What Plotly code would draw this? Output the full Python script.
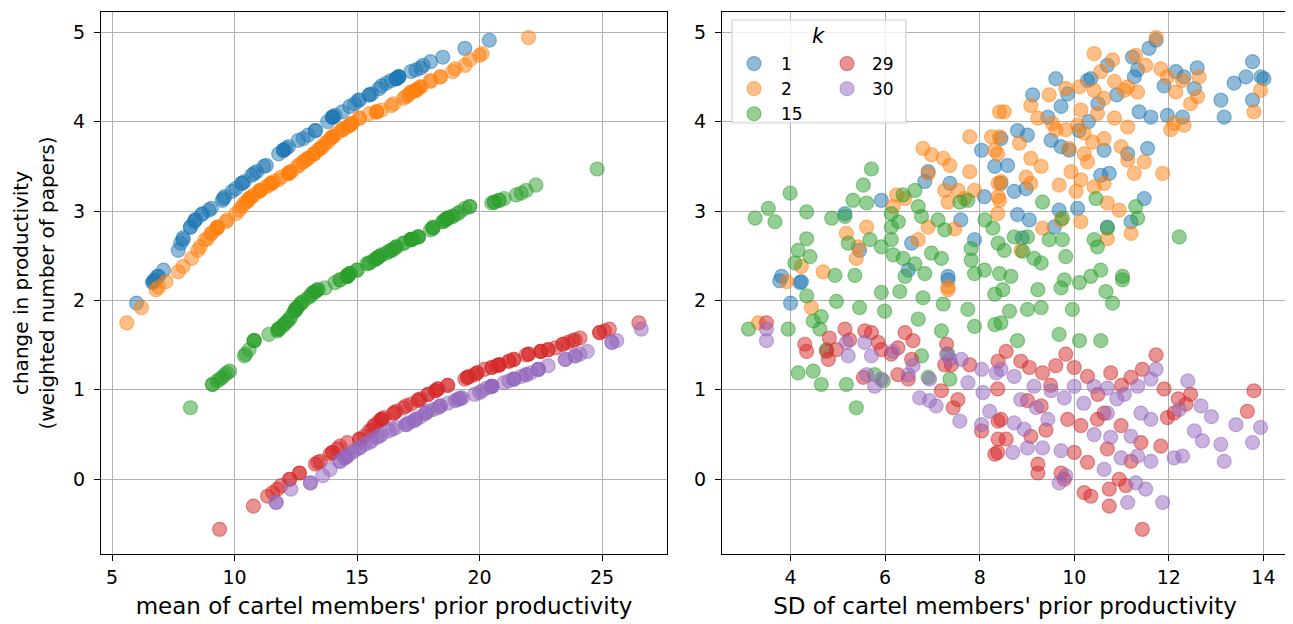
import plotly.graph_objects as go

k_labels = ["1", "2", "15", "29", "30"]
colors = ["31,119,180", "255,127,14", "44,160,44", "214,39,40", "148,103,189"]

# k = 1
k1_sd = [4.0, 3.77, 4.2, 3.81, 4.23, 7.33, 7.33, 6.49, 6.56, 7.89,
         5.46, 5.15, 5.92, 6.84, 6.91, 7.37, 8.04, 8.32, 8.1, 11.73,
         11.58, 13.77, 14.01, 13.63, 13.38, 13.1, 13.17, 13.77, 12.15, 12.32,
         12.54, 12.29, 11.97, 11.62, 11.37, 11.34, 11.27, 11.23, 10.7, 10.35,
         10.28, 9.61, 9.12, 9.72, 9.86, 9.44, 8.8, 9.01, 8.45, 9.51,
         9.72, 9.89, 10.63, 10.74, 10.56, 11.48, 11.2, 8.59, 8.45, 8.73,
         8.98, 9.68, 10.07, 8.8, 9.05, 9.58, 10.7, 11.13, 11.55, 10.9,
         10.5, 11.9, 12.6, 13.95, 10.1, 10.3, 7.6, 8.9]
k1_change = [1.97, 2.22, 2.2, 2.27, 2.21, 2.23, 2.27, 2.34, 2.64, 2.68,
             2.56, 2.97, 3.12, 3.33, 3.44, 3.31, 3.68, 3.5, 3.16, 4.91,
             4.82, 4.67, 4.48, 4.5, 4.43, 4.24, 4.05, 4.24, 4.56, 4.5,
             4.37, 4.05, 4.07, 4.05, 4.11, 4.58, 4.5, 4.72, 4.63, 4.48,
             4.46, 4.48, 4.3, 4.17, 4.31, 4.05, 3.9, 3.85, 3.81, 3.79,
             3.72, 3.68, 3.68, 3.42, 3.4, 3.14, 2.88, 3.51, 3.31, 3.22,
             3.25, 3.01, 3.03, 2.96, 2.9, 2.82, 2.82, 3.64, 3.7, 4.3,
             4.2, 4.4, 4.6, 4.5, 3.9, 4.0, 2.9, 2.7]
k1_mean = [6.0, 6.7, 6.65, 6.85, 6.7, 6.75, 6.9, 7.1, 7.8, 7.9,
           7.7, 8.7, 9.5, 10.4, 10.9, 10.3, 12.0, 11.2, 9.6, 20.4,
           19.4, 18.0, 16.6, 16.7, 16.2, 15.05, 14.0, 15.1, 17.2, 16.7,
           15.9, 14.0, 14.1, 14.0, 14.4, 17.4, 16.7, 18.5, 17.7, 16.6,
           16.4, 16.6, 15.5, 14.7, 15.6, 14.0, 13.3, 13.0, 12.8, 12.6,
           12.2, 12.0, 12.0, 10.8, 10.7, 9.55, 8.35, 11.3, 10.3, 9.9,
           10.05, 8.95, 9.05, 8.65, 8.4, 8.2, 8.2, 11.8, 12.1, 15.5,
           14.9, 16.0, 17.6, 16.7, 13.3, 13.8, 8.4, 7.9]

# k = 2
k2_sd = [3.32, 4.44, 7.33, 7.33, 3.92, 4.23, 4.69, 5.39, 5.43, 6.7,
         5.18, 5.61, 6.91, 7.47, 6.17, 6.24, 6.42, 7.33, 7.68, 7.26,
         7.54, 7.89, 6.91, 7.37, 7.79, 7.23, 6.98, 6.8, 7.79, 8.25,
         8.32, 8.39, 8.39, 8.42, 11.73, 10.42, 10.81, 11.3, 11.51, 11.83,
         12.64, 12.29, 11.97, 12.61, 12.46, 12.15, 13.94, 13.8, 12.11, 12.32,
         12.04, 11.87, 11.2, 10.7, 10.95, 10.63, 11.27, 11.48, 11.13, 10.99,
         11.13, 10.85, 10.49, 10.63, 10.42, 11.06, 11.34, 11.13, 10.85, 10.56,
         10.11, 9.82, 9.47, 9.08, 8.52, 9.23, 9.54, 9.82, 10.07, 10.21,
         10.39, 10.63, 10.14, 9.61, 9.89, 10.21, 10.28, 9.93, 10.14, 10.42,
         9.68, 9.08, 9.3, 8.98, 9.08, 8.45, 8.42, 8.38, 8.42, 8.84,
         10.04, 10.14, 9.72, 9.33, 8.87, 10.7, 8.38]
k2_change = [1.75, 1.92, 2.12, 2.15, 2.21, 2.38, 2.32, 2.47, 2.6, 2.68,
             2.75, 2.82, 2.82, 2.8, 3.05, 3.18, 3.14, 3.1, 3.14, 3.23,
             3.23, 3.23, 3.42, 3.51, 3.44, 3.59, 3.63, 3.7, 3.83, 3.83,
             3.68, 3.31, 3.16, 4.11, 4.94, 4.76, 4.69, 4.74, 4.63, 4.59,
             4.5, 4.46, 4.5, 4.28, 4.2, 4.33, 4.35, 4.11, 3.98, 3.96,
             3.91, 3.42, 2.75, 3.09, 3.01, 3.31, 3.42, 3.55, 3.57, 3.72,
             3.94, 4.04, 4.09, 4.26, 4.35, 4.35, 4.33, 4.39, 4.45, 4.56,
             4.39, 4.37, 4.3, 4.18, 4.11, 4.04, 3.98, 3.91, 3.96, 3.87,
             3.77, 3.81, 4.13, 3.91, 3.7, 3.64, 3.55, 3.44, 3.35, 3.27,
             3.29, 3.59, 3.5, 3.38, 3.31, 3.33, 3.12, 3.64, 3.83, 3.76,
             3.22, 2.88, 2.9, 2.81, 2.56, 2.69, 2.97]
k2_mean = [5.6, 6.2, 6.8, 6.9, 7.2, 7.9, 7.7, 8.25, 8.6, 8.8,
           9.05, 9.3, 9.3, 9.25, 10.3, 10.8, 10.6, 10.5, 10.6, 11.05,
           11.05, 11.05, 12.2, 12.6, 12.3, 13.0, 13.2, 13.5, 14.0, 14.0,
           13.4, 11.5, 10.7, 15.8, 22.0, 20.1, 19.6, 20.0, 19.4, 19.0,
           18.4, 18.0, 18.4, 17.0, 16.5, 17.2, 17.4, 15.8, 14.8, 14.7,
           14.4, 12.2, 9.05, 10.4, 10.2, 11.5, 12.2, 12.8, 12.9, 13.6,
           14.6, 15.1, 15.5, 16.9, 17.4, 17.4, 17.2, 17.6, 18.0, 18.9,
           17.6, 17.5, 17.1, 16.4, 15.8, 15.1, 14.8, 14.4, 14.7, 14.2,
           13.8, 13.9, 16.0, 14.4, 13.5, 13.25, 12.8, 12.3, 11.8, 11.3,
           11.4, 13.0, 12.6, 11.9, 11.5, 11.6, 10.55, 13.25, 14.0, 13.7,
           11.0, 9.65, 9.7, 9.3, 8.5, 8.9, 10.05]

# k = 15
k15_sd = [5.71, 5.54, 5.32, 5.61, 6.63, 6.38, 3.99, 3.53, 3.25, 3.67,
          4.34, 4.87, 5.15, 6.13, 6.28, 6.7, 6.77, 7.58, 7.75, 8.11,
          8.28, 8.39, 6.13, 6.13, 5.68, 5.22, 4.34, 4.16, 4.41, 4.09,
          4.94, 5.36, 5.92, 6.17, 6.38, 6.42, 6.63, 6.98, 7.19, 7.82,
          7.82, 7.89, 8.1, 6.84, 7.12, 7.26, 4.34, 4.97, 5.46, 5.99,
          5.92, 6.31, 6.8, 7.23, 7.75, 8.32, 6.7, 7.19, 7.89, 8.32,
          3.11, 3.95, 4.48, 4.65, 4.62, 4.16, 4.48, 4.65, 5.18, 5.39,
          5.78, 5.96, 6.77, 6.91, 7.37, 7.33, 4.76, 8.49, 9.23, 9.72,
          10.11, 10.67, 10.81, 11.02, 9.96, 9.3, 9.01, 8.63, 8.45, 8.8,
          9.68, 10.11, 10.56, 9.33, 10.46, 11.3, 11.34, 12.22, 9.75, 10.7,
          10.42, 9.75, 9.47, 9.01, 8.73, 8.52, 8.91, 9.15, 9.3, 9.82,
          10.49, 10.56, 11.02, 10.35, 9.79, 8.66, 8.42]
k15_change = [3.47, 3.29, 3.12, 3.09, 3.23, 3.18, 3.2, 3.03, 2.92, 2.88,
              2.99, 2.92, 2.94, 2.97, 2.88, 3.05, 2.94, 3.1, 3.12, 2.9,
              2.81, 2.64, 2.82, 2.68, 2.68, 2.64, 2.69, 2.56, 2.49, 2.42,
              2.28, 2.28, 2.6, 2.51, 2.47, 2.27, 2.41, 2.53, 2.47, 2.58,
              2.45, 2.3, 2.34, 2.3, 2.9, 2.79, 2.05, 1.99, 1.92, 1.88,
              2.09, 2.1, 2.03, 1.96, 1.9, 2.07, 1.79, 1.66, 1.71, 1.73,
              1.68, 1.68, 1.77, 1.82, 1.68, 1.19, 1.21, 1.06, 1.06, 0.8,
              1.17, 1.1, 1.38, 1.14, 1.12, 1.4, 1.45, 2.12, 2.12, 2.14,
              2.2, 2.1, 1.97, 2.23, 1.9, 1.92, 1.9, 1.88, 1.75, 1.55,
              1.62, 1.55, 1.55, 3.1, 3.14, 3.05, 2.92, 2.71, 2.92, 2.81,
              2.68, 2.68, 2.68, 2.71, 2.71, 2.56, 2.55, 2.47, 2.42, 2.49,
              2.6, 2.34, 2.27, 2.27, 2.23, 2.27, 2.3]
k15_mean = [24.8, 22.3, 20.8, 20.5, 21.9, 21.5, 21.7, 19.4, 18.7, 18.5,
            19.2, 18.7, 18.9, 19.1, 18.5, 19.6, 18.9, 20.6, 20.8, 18.6,
            18.1, 16.9, 18.1, 17.2, 17.2, 16.9, 17.3, 16.4, 15.9, 15.5,
            14.6, 14.6, 16.6, 16.0, 15.8, 14.6, 15.4, 16.2, 15.8, 16.5,
            15.7, 14.7, 15.0, 14.7, 18.6, 18.0, 13.1, 12.8, 12.55, 12.45,
            13.2, 13.3, 13.0, 12.7, 12.5, 13.15, 12.25, 11.75, 11.95, 12.0,
            11.8, 11.8, 12.15, 12.3, 11.8, 9.7, 9.8, 9.1, 9.1, 8.2,
            9.6, 9.3, 10.4, 9.5, 9.4, 10.45, 10.6, 13.4, 13.4, 13.7,
            14.1, 13.3, 12.7, 14.3, 12.5, 12.55, 12.5, 12.45, 12.1, 10.8,
            11.4, 10.8, 10.8, 20.6, 21.0, 19.6, 18.7, 17.5, 18.7, 18.1,
            17.2, 17.2, 17.2, 17.5, 17.5, 16.4, 16.3, 15.8, 15.5, 15.9,
            16.6, 15.0, 14.6, 14.6, 14.3, 14.6, 14.7]

# k = 29
k29_sd = [3.49, 4.3, 4.34, 4.76, 4.8, 4.82, 4.97, 5.15, 5.25, 5.57,
          5.71, 5.85, 5.92, 6.13, 6.42, 6.59, 6.27, 6.56, 6.27, 5.54,
          6.49, 7.3, 7.26, 7.4, 7.79, 7.19, 7.54, 7.44, 8.04, 8.39,
          8.32, 8.39, 8.39, 8.56, 8.87, 9.05, 9.33, 9.61, 9.82, 10.0,
          10.28, 10.77, 11.2, 11.44, 11.73, 11.9, 12.46, 12.36, 13.8, 13.66,
          8.45, 8.38, 8.56, 9.08, 9.23, 9.23, 9.72, 9.79, 10.21, 10.35,
          10.74, 10.74, 10.95, 11.09, 11.44, 10.28, 10.7, 11.41, 11.83, 10.49,
          10.63, 9.01, 9.3, 9.86, 10.14, 10.99, 11.97, 12.11, 8.38, 9.5,
          10.5, 11.0, 12.2, 9.4, 10.0, 11.2]
k29_change = [1.75, 1.51, 1.43, 1.43, 1.34, 1.58, 1.45, 1.68, 1.56, 1.66,
              1.64, 1.53, 1.45, 1.4, 1.64, 1.55, 1.47, 1.34, 1.17, 1.14,
              1.12, 1.51, 1.28, 1.28, 1.28, 0.99, 0.89, 0.8, 0.54, 0.65,
              0.28, 0.45, 1.32, 1.43, 1.32, 1.25, 1.19, 1.27, 1.4, 1.25,
              1.15, 1.19, 1.14, 1.23, 1.39, 1.01, 0.95, 0.84, 0.99, 0.76,
              0.67, 0.3, 0.45, 0.48, 0.17, 0.07, 0.07, 0.0, -0.15, -0.19,
              -0.11, -0.3, 0.0, -0.07, -0.56, 0.19, 0.34, 0.41, 0.37, 0.67,
              0.74, 0.88, 0.82, 0.67, 0.6, 0.6, 0.69, 0.74, 1.01, 1.05,
              0.95, 1.05, 0.9, 0.55, 0.3, 0.2]
k29_mean = [26.5, 23.4, 22.5, 22.5, 21.4, 24.1, 22.8, 25.3, 23.9, 25.1,
            24.9, 23.6, 22.8, 22.0, 24.9, 23.8, 23.1, 21.4, 19.8, 19.5,
            19.4, 23.4, 20.8, 20.8, 20.8, 18.2, 17.5, 16.9, 15.5, 15.9,
            13.9, 15.1, 21.2, 22.5, 21.2, 20.5, 19.9, 20.7, 22.0, 20.5,
            19.6, 19.9, 19.5, 20.2, 21.9, 18.3, 17.9, 17.2, 18.2, 16.6,
            16.0, 14.0, 15.1, 15.3, 13.3, 12.65, 12.65, 12.25, 11.56, 11.35,
            11.75, 10.77, 12.25, 11.9, 9.39, 13.4, 14.2, 14.6, 14.3, 16.0,
            16.5, 17.5, 17.0, 16.0, 15.7, 15.7, 16.1, 16.5, 18.3, 18.7,
            17.9, 18.7, 17.6, 15.6, 14.0, 13.5]

# k = 30
k30_sd = [3.49, 3.49, 5.18, 5.22, 5.57, 5.71, 5.61, 5.92, 5.78, 6.17,
          6.49, 6.59, 6.94, 6.73, 6.94, 7.08, 7.3, 7.37, 7.61, 8.04,
          8.35, 7.75, 7.58, 8.04, 8.21, 8.07, 8.45, 8.73, 9.15, 9.51,
          9.79, 10.0, 10.42, 10.7, 11.06, 11.34, 11.62, 11.73, 11.41, 11.62,
          12.22, 12.68, 12.54, 12.71, 12.29, 12.11, 13.42, 13.94, 13.77, 13.1,
          13.17, 8.7, 9.01, 9.33, 9.72, 9.82, 9.68, 11.13, 11.87, 11.3,
          11.51, 11.62, 11.34, 10.99, 10.63, 8.73, 8.94, 9.44, 10.42, 10.77,
          11.2, 10.7, 8.87, 9.2, 10.2, 10.9, 12.9, 12.4]
k30_change = [1.68, 1.55, 1.53, 1.38, 1.53, 1.38, 1.17, 1.12, 1.04, 1.43,
              1.17, 1.27, 1.12, 0.91, 0.88, 0.82, 1.4, 1.34, 1.34, 1.23,
              1.19, 1.08, 0.65, 0.61, 0.76, 0.97, 1.23, 1.15, 1.04, 0.99,
              0.91, 1.04, 1.04, 1.02, 0.95, 1.04, 1.12, 1.23, 0.74, 0.67,
              0.78, 0.82, 0.54, 0.43, 0.26, 0.24, 0.61, 0.58, 0.41, 0.39,
              0.2, 0.3, 0.35, 0.35, 0.32, 0.04, -0.04, -0.26, -0.26, -0.04,
              -0.11, 0.2, 0.26, 0.24, 0.11, 0.63, 0.56, 0.67, 0.5, 0.47,
              0.48, 0.74, 0.89, 0.8, 0.85, 0.9, 0.7, 1.1]
k30_mean = [26.6, 25.6, 25.4, 23.9, 25.4, 23.9, 21.9, 21.4, 20.5, 24.4,
            21.9, 22.8, 21.4, 19.3, 19.0, 18.4, 24.1, 23.5, 23.5, 22.4,
            22.1, 21.0, 17.3, 17.0, 17.9, 20.0, 22.4, 21.7, 20.5, 20.1,
            19.2, 20.5, 20.5, 20.3, 19.8, 20.5, 21.4, 22.4, 17.8, 17.4,
            18.1, 18.4, 16.3, 15.6, 14.6, 14.5, 17.0, 16.6, 15.5, 15.3,
            14.3, 14.8, 15.1, 15.1, 14.9, 13.6, 13.1, 11.7, 11.7, 13.1,
            12.3, 14.3, 14.6, 14.5, 13.9, 17.1, 16.45, 17.4, 16.0, 15.8,
            15.9, 17.8, 19.1, 18.3, 18.7, 19.2, 17.6, 21.2]

x_ticks_left = [5, 10, 15, 20, 25]
x_ticks_right = [4, 6, 8, 10, 12, 14]
y_ticks = [0, 1, 2, 3, 4, 5]

series = [
    (k1_mean, k1_sd, k1_change),
    (k2_mean, k2_sd, k2_change),
    (k15_mean, k15_sd, k15_change),
    (k29_mean, k29_sd, k29_change),
    (k30_mean, k30_sd, k30_change),
]

fig = go.Figure()
for i, (lab, col, (mn, sd, ch)) in enumerate(zip(k_labels, colors, series)):
    mk = dict(size=14, color=f"rgba({col},0.5)",
              line=dict(width=1.2, color=f"rgba({col},0.5)"))
    leg = "legend" if i < 3 else "legend2"
    fig.add_trace(go.Scatter(x=mn, y=ch, mode="markers", marker=mk,
                             xaxis="x", yaxis="y", showlegend=False, name=lab))
    fig.add_trace(go.Scatter(x=sd, y=ch, mode="markers", marker=mk,
                             xaxis="x2", yaxis="y2", showlegend=True,
                             name=lab, legend=leg))

# the page body has an 8px margin; the figure is placed at (8, 8)
OFF = 8
W, H = 1285, 616
ML, MR, MT, MB = 93, 5, 4, 70
pw = W - ML - MR
ph = H - MT - MB


def px_x(p):
    return (p - OFF - ML) / pw


def px_y(p):
    return (H - MB - (p - OFF)) / ph


tickfont = dict(family="DejaVu Sans", size=19, color="black")
xtitlefont = dict(family="DejaVu Sans", size=23, color="black")
ytitlefont = dict(family="DejaVu Sans", size=20, color="black")
legfont = dict(family="DejaVu Sans", size=17, color="black")
axis_common = dict(showline=True, mirror=True, linecolor="black", linewidth=1.3,
                   ticks="outside", ticklen=6, tickwidth=1.3, tickcolor="black",
                   showgrid=True, gridcolor="#b0b0b0", gridwidth=1.3,
                   zeroline=False, tickfont=tickfont, automargin=False)

fig.update_layout(
    width=W, height=H,
    margin=dict(l=ML, r=MR, t=MT, b=MB),
    paper_bgcolor="white", plot_bgcolor="white",
    xaxis=dict(domain=[0, px_x(667)], range=[4.55, 27.65], tickvals=x_ticks_left,
               title=dict(text="mean of cartel members' prior productivity",
                          font=xtitlefont, standoff=10),
               anchor="y", **axis_common),
    yaxis=dict(domain=[0, 1], range=[-0.836, 5.226], tickvals=y_ticks,
               ticklabelstandoff=5,
               title=dict(text="change in productivity<br>(weighted number of papers)",
                          font=ytitlefont, standoff=12),
               anchor="x", **axis_common),
    xaxis2=dict(domain=[px_x(722), 1], range=[2.55, 14.52], tickvals=x_ticks_right,
                title=dict(text="SD of cartel members' prior productivity",
                           font=xtitlefont, standoff=10),
                anchor="y2", **axis_common),
    yaxis2=dict(domain=[0, 1], range=[-0.836, 5.226], tickvals=y_ticks,
                ticklabelstandoff=5,
                anchor="x2", **axis_common),
    legend=dict(x=px_x(727), y=px_y(46), xanchor="left", yanchor="top",
                bgcolor="rgba(0,0,0,0)", borderwidth=0, font=legfont,
                itemsizing="trace", itemwidth=44, tracegroupgap=0),
    legend2=dict(x=px_x(822), y=px_y(46), xanchor="left", yanchor="top",
                 bgcolor="rgba(0,0,0,0)", borderwidth=0, font=legfont,
                 itemsizing="trace", itemwidth=40, tracegroupgap=0),
    shapes=[dict(type="rect", xref="paper", yref="paper",
                 x0=px_x(732), x1=px_x(906), y0=px_y(123), y1=px_y(20),
                 fillcolor="rgba(255,255,255,0.8)",
                 line=dict(color="#d0d0d0", width=1.2), layer="above")],
    annotations=[dict(text="<i>k</i>", xref="paper", yref="paper",
                      x=px_x(818), y=px_y(36), xanchor="center", yanchor="middle",
                      showarrow=False,
                      font=dict(family="DejaVu Sans", size=21, color="black"))],
)

fig.write_html("out.html")
